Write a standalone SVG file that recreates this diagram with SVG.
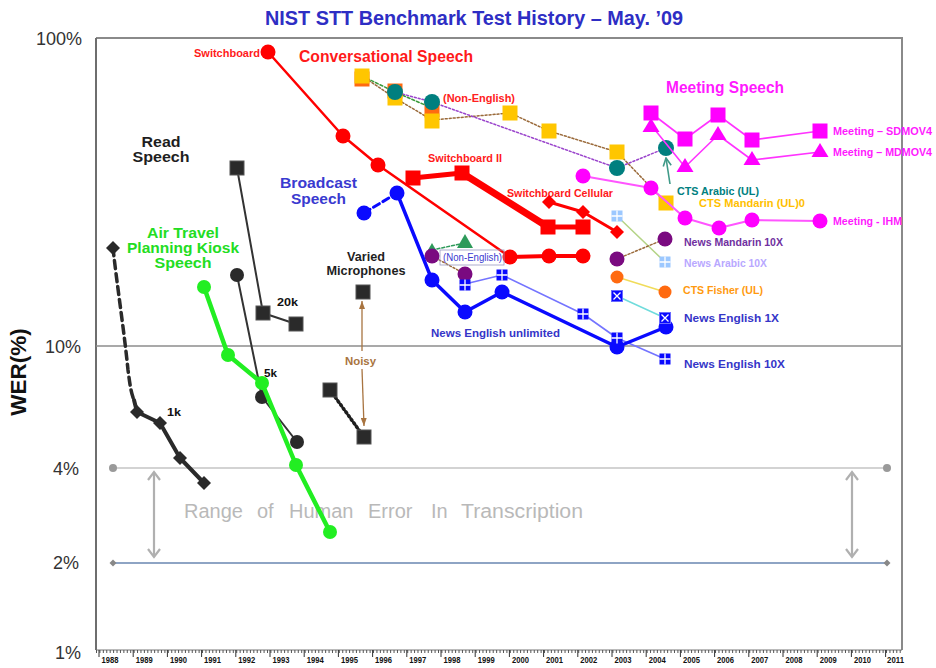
<svg xmlns="http://www.w3.org/2000/svg" width="936" height="668" viewBox="0 0 936 668">
<defs>
<style>
text { font-family: "Liberation Sans", Arial, sans-serif; }
.b { font-weight: bold; }
.sm { font-size: 10px; font-weight: bold; }
.yr { font-size: 8.5px; font-weight: bold; fill: #111; text-anchor: middle; }
.ax { font-size: 18px; fill: #333; text-anchor: end; }
.ln { fill: none; stroke-linejoin: round; stroke-linecap: round; }
.hum { font-size: 20px; fill: #b9b9b9; }
</style>
<marker id="chev" viewBox="0 0 12 14" refX="10" refY="7" markerWidth="12" markerHeight="14" markerUnits="userSpaceOnUse" orient="auto-start-reverse">
  <path d="M2,1 L10,7 L2,13" fill="none" stroke="#b0b0b0" stroke-width="2.2"/>
</marker>
<marker id="brownHead" viewBox="0 0 8 6" refX="8" refY="3" markerWidth="8" markerHeight="6" markerUnits="userSpaceOnUse" orient="auto">
  <path d="M0,0 L8,3 L0,6 z" fill="#a87440"/>
</marker>
<marker id="tealHead" viewBox="0 0 10 10" refX="9" refY="5" markerWidth="10" markerHeight="10" markerUnits="userSpaceOnUse" orient="auto">
  <path d="M1,1 L9,5 L1,9" fill="none" stroke="#3f9a88" stroke-width="1.6"/>
</marker>
<g id="sqK"><rect x="-7" y="-7" width="14" height="14" fill="#2a2a2a" stroke="#555" stroke-width="1"/></g>
<g id="sqR"><rect x="-7.5" y="-7.5" width="15" height="15" fill="#ff0000"/></g>
<g id="sqY"><rect x="-7.5" y="-7.5" width="15" height="15" fill="#ffc600"/></g>
<g id="sqO"><rect x="-7.5" y="-7.5" width="15" height="15" fill="#ff6a10"/></g>
<g id="sqM"><rect x="-7.5" y="-7.5" width="15" height="15" fill="#ff00ff"/></g>
<g id="triM"><polygon points="0,-8 8.5,6 -8.5,6" fill="#ff00ff"/></g>
<g id="dmK"><polygon points="0,-7 7,0 0,7 -7,0" fill="#2a2a2a"/></g>
<g id="dmR"><polygon points="0,-7 7,0 0,7 -7,0" fill="#ff0000"/></g>
<g id="qB"><rect x="-5.5" y="-5.5" width="11" height="11" fill="#0a0aff"/><path d="M0,-5.5V5.5M-5.5,0H5.5" stroke="#fff" stroke-width="1.3"/></g>
<g id="qL"><rect x="-5.5" y="-5.5" width="11" height="11" fill="#9cc8ff"/><path d="M0,-5.5V5.5M-5.5,0H5.5" stroke="#fff" stroke-width="1.3"/></g>
<g id="xB"><rect x="-5.5" y="-5.5" width="11" height="11" fill="#0a0aff" stroke="#6a6aff" stroke-width="1"/><path d="M-3.5,-3.5L3.5,3.5M3.5,-3.5L-3.5,3.5" stroke="#fff" stroke-width="1.3"/></g>
</defs>

<rect width="936" height="668" fill="#ffffff"/>

<!-- title -->
<text x="474" y="25" class="b" font-size="20" fill="#2e2ec4" text-anchor="middle" textLength="418" lengthAdjust="spacingAndGlyphs">NIST STT Benchmark Test History – May. ’09</text>

<!-- axes and frame -->
<g id="frame">
  <path d="M96,38 H902 V650" fill="none" stroke="#8a8a8a" stroke-width="2"/>
  <path d="M96,38 V650" stroke="#6e6e6e" stroke-width="2"/>
  <path d="M96,650 H902" stroke="#777" stroke-width="1"/>
  <path d="M96,651.5 H902" stroke="#555" stroke-width="3" stroke-dasharray="1 2.42"/>
  <path d="M99,650 V657 M133.2,650 V657 M167.4,650 V657 M201.6,650 V657 M235.8,650 V657 M270,650 V657 M304.2,650 V657 M338.4,650 V657 M372.6,650 V657 M406.8,650 V657 M441,650 V657 M475.2,650 V657 M509.4,650 V657 M543.6,650 V657 M577.8,650 V657 M612,650 V657 M646.2,650 V657 M680.4,650 V657 M714.6,650 V657 M748.8,650 V657 M783,650 V657 M817.2,650 V657 M851.4,650 V657 M885.6,650 V657" stroke="#333" stroke-width="1"/>
  <path d="M96,346 H902" stroke="#8c8c8c" stroke-width="1.6"/>
</g>

<g id="year-labels">
  <text class="yr" x="110" y="663" textLength="17" lengthAdjust="spacingAndGlyphs">1988</text>
  <text class="yr" x="144.2" y="663" textLength="17" lengthAdjust="spacingAndGlyphs">1989</text>
  <text class="yr" x="178.4" y="663" textLength="17" lengthAdjust="spacingAndGlyphs">1990</text>
  <text class="yr" x="212.6" y="663" textLength="17" lengthAdjust="spacingAndGlyphs">1991</text>
  <text class="yr" x="246.8" y="663" textLength="17" lengthAdjust="spacingAndGlyphs">1992</text>
  <text class="yr" x="281" y="663" textLength="17" lengthAdjust="spacingAndGlyphs">1993</text>
  <text class="yr" x="315.2" y="663" textLength="17" lengthAdjust="spacingAndGlyphs">1994</text>
  <text class="yr" x="349.4" y="663" textLength="17" lengthAdjust="spacingAndGlyphs">1995</text>
  <text class="yr" x="383.6" y="663" textLength="17" lengthAdjust="spacingAndGlyphs">1996</text>
  <text class="yr" x="417.8" y="663" textLength="17" lengthAdjust="spacingAndGlyphs">1997</text>
  <text class="yr" x="452" y="663" textLength="17" lengthAdjust="spacingAndGlyphs">1998</text>
  <text class="yr" x="486.2" y="663" textLength="17" lengthAdjust="spacingAndGlyphs">1999</text>
  <text class="yr" x="520.4" y="663" textLength="17" lengthAdjust="spacingAndGlyphs">2000</text>
  <text class="yr" x="554.6" y="663" textLength="17" lengthAdjust="spacingAndGlyphs">2001</text>
  <text class="yr" x="588.8" y="663" textLength="17" lengthAdjust="spacingAndGlyphs">2002</text>
  <text class="yr" x="623" y="663" textLength="17" lengthAdjust="spacingAndGlyphs">2003</text>
  <text class="yr" x="657.2" y="663" textLength="17" lengthAdjust="spacingAndGlyphs">2004</text>
  <text class="yr" x="691.4" y="663" textLength="17" lengthAdjust="spacingAndGlyphs">2005</text>
  <text class="yr" x="725.6" y="663" textLength="17" lengthAdjust="spacingAndGlyphs">2006</text>
  <text class="yr" x="759.8" y="663" textLength="17" lengthAdjust="spacingAndGlyphs">2007</text>
  <text class="yr" x="794" y="663" textLength="17" lengthAdjust="spacingAndGlyphs">2008</text>
  <text class="yr" x="828.2" y="663" textLength="17" lengthAdjust="spacingAndGlyphs">2009</text>
  <text class="yr" x="862.4" y="663" textLength="17" lengthAdjust="spacingAndGlyphs">2010</text>
  <text class="yr" x="895.6" y="663" textLength="17" lengthAdjust="spacingAndGlyphs">2011</text>
</g>

<g id="y-labels">
  <text class="ax" x="82" y="45">100%</text>
  <text class="ax" x="81" y="353">10%</text>
  <text class="ax" x="79" y="475">4%</text>
  <text class="ax" x="79" y="569">2%</text>
  <text class="ax" x="81" y="659">1%</text>
  <text class="b" font-size="22.5" fill="#111" text-anchor="middle" transform="translate(26,372) rotate(-90)">WER(%)</text>
</g>

<!-- human transcription error band -->
<g id="human-range">
  <path d="M113,468 H887" stroke="#c4c4c4" stroke-width="1.5"/>
  <circle cx="113" cy="468" r="4" fill="#9a9a9a"/>
  <circle cx="887" cy="468" r="4" fill="#9a9a9a"/>
  <path d="M113,563 H887" stroke="#8ea4c4" stroke-width="2"/>
  <polygon points="113,559.5 116.5,563 113,566.5 109.5,563" fill="#888"/>
  <polygon points="887,559.5 890.5,563 887,566.5 883.5,563" fill="#888"/>
  <path d="M154,472 V557" stroke="#b0b0b0" stroke-width="2.2" marker-start="url(#chev)" marker-end="url(#chev)"/>
  <path d="M852,472 V557" stroke="#b0b0b0" stroke-width="2.2" marker-start="url(#chev)" marker-end="url(#chev)"/>
  <text class="hum" x="184" y="518">Range</text>
  <text class="hum" x="257" y="518">of</text>
  <text class="hum" x="289" y="518">Human</text>
  <text class="hum" x="368" y="518">Error</text>
  <text class="hum" x="431" y="518">In</text>
  <text class="hum" x="461" y="518" textLength="122" lengthAdjust="spacingAndGlyphs">Transcription</text>
</g>

<!-- read speech -->
<g id="read-speech">
  <text class="b" font-size="14" fill="#1e1e1e" x="161" y="146.5" text-anchor="middle" textLength="39" lengthAdjust="spacingAndGlyphs">Read</text>
  <text class="b" font-size="14" fill="#1e1e1e" x="161" y="162" text-anchor="middle" textLength="57" lengthAdjust="spacingAndGlyphs">Speech</text>
  <path class="ln" d="M113,248 C117,285 124,330 128,370 C130,385 131,393 134,400" stroke="#2a2a2a" stroke-width="3.5" stroke-dasharray="8 5" stroke-linecap="butt"/>
  <path class="ln" d="M134,400 L137,412 L160,423 L180,458 L204,483" stroke="#2a2a2a" stroke-width="4"/>
  <use href="#dmK" x="113" y="248"/>
  <use href="#dmK" x="137" y="412"/>
  <use href="#dmK" x="160" y="423"/>
  <use href="#dmK" x="180" y="458"/>
  <use href="#dmK" x="204" y="483"/>
  <text class="sm" fill="#111" x="167" y="416" textLength="14" lengthAdjust="spacingAndGlyphs">1k</text>

  <path class="ln" d="M237,168 L263,313 L296,324" stroke="#333" stroke-width="2"/>
  <use href="#sqK" x="237" y="168"/>
  <use href="#sqK" x="263" y="313"/>
  <use href="#sqK" x="296" y="324"/>
  <text class="sm" fill="#111" x="277" y="305.5" textLength="21" lengthAdjust="spacingAndGlyphs">20k</text>

  <path class="ln" d="M237,275 L262,397 L297,442" stroke="#333" stroke-width="2"/>
  <circle cx="237" cy="275" r="7" fill="#2a2a2a"/>
  <circle cx="262" cy="397" r="7" fill="#2a2a2a"/>
  <circle cx="297" cy="442" r="7" fill="#2a2a2a"/>
  <text class="sm" fill="#111" x="264" y="377" textLength="13" lengthAdjust="spacingAndGlyphs">5k</text>
</g>

<!-- varied microphones -->
<g id="varied-microphones">
  <text class="b" font-size="12" fill="#1e1e1e" x="366" y="261" text-anchor="middle" textLength="38" lengthAdjust="spacingAndGlyphs">Varied</text>
  <text class="b" font-size="12" fill="#1e1e1e" x="366" y="274.5" text-anchor="middle" textLength="79" lengthAdjust="spacingAndGlyphs">Microphones</text>
  <use href="#sqK" x="363" y="292"/>
  <path class="ln" d="M330,390 L364,437" stroke="#1e1e1e" stroke-width="3.5" stroke-dasharray="1.5 3"/>
  <use href="#sqK" x="330" y="390"/>
  <use href="#sqK" x="364" y="437"/>
  <path d="M362,351 V301" stroke="#a87440" stroke-width="1.3" marker-end="url(#brownHead)"/>
  <path d="M362,369 L364,426" stroke="#a87440" stroke-width="1.3" marker-end="url(#brownHead)"/>
  <text class="sm" fill="#a87440" x="345" y="364.5" textLength="31" lengthAdjust="spacingAndGlyphs">Noisy</text>
</g>

<!-- air travel planning kiosk -->
<g id="air-travel">
  <text class="b" font-size="14" fill="#22dd22" x="183" y="237.5" text-anchor="middle" textLength="72" lengthAdjust="spacingAndGlyphs">Air Travel</text>
  <text class="b" font-size="14" fill="#22dd22" x="183" y="253" text-anchor="middle" textLength="112" lengthAdjust="spacingAndGlyphs">Planning Kiosk</text>
  <text class="b" font-size="14" fill="#22dd22" x="183" y="268" text-anchor="middle" textLength="57" lengthAdjust="spacingAndGlyphs">Speech</text>
  <path class="ln" d="M204,287 L228,355 L262,383 L296,465 L330,532" stroke="#22ee22" stroke-width="4.5"/>
  <circle cx="204" cy="287" r="7" fill="#22ee22"/>
  <circle cx="228" cy="355" r="7" fill="#22ee22"/>
  <circle cx="262" cy="383" r="7" fill="#22ee22"/>
  <circle cx="296" cy="465" r="7" fill="#22ee22"/>
  <circle cx="330" cy="532" r="7" fill="#22ee22"/>
</g>

<!-- conversational non-English (CTS) -->
<g id="cts-non-english">
  <path class="ln" d="M362,76 L395,98 L432,120 L510,113 L549,131 L617,152 L666,203" stroke="#9a6a3a" stroke-width="1.5" stroke-dasharray="2 2"/>
  <path class="ln" d="M362,76 L395,92 L432,108" stroke="#3a9a3a" stroke-width="1.5" stroke-dasharray="3 2"/>
  <path class="ln" d="M395,92 L432,102 L617,168 L666,148" stroke="#9a44cc" stroke-width="1.5" stroke-dasharray="2 2"/>
  <use href="#sqO" x="362" y="79"/>
  <use href="#sqY" x="362" y="76"/>
  <use href="#sqO" x="395" y="91"/>
  <use href="#sqY" x="395" y="98"/>
  <use href="#sqO" x="432" y="110"/>
  <use href="#sqY" x="432" y="121"/>
  <use href="#sqY" x="510" y="113"/>
  <use href="#sqY" x="549" y="131"/>
  <use href="#sqY" x="617" y="152"/>
  <use href="#sqY" x="666" y="203"/>
  <circle cx="395" cy="92" r="8" fill="#007f7f"/>
  <circle cx="432" cy="102" r="8" fill="#007f7f"/>
  <circle cx="617" cy="168" r="8" fill="#007f7f"/>
  <circle cx="666" cy="148" r="8" fill="#007f7f"/>
  <text class="sm" fill="#ff2020" x="443" y="101.5" textLength="72" lengthAdjust="spacingAndGlyphs">(Non-English)</text>
  <path d="M670,184 L666,158" stroke="#3f9a88" stroke-width="1.6" marker-end="url(#tealHead)"/>
  <text class="sm" fill="#008080" x="677" y="194.5" textLength="82" lengthAdjust="spacingAndGlyphs">CTS Arabic (UL)</text>
  <text class="sm" fill="#ffc000" x="699" y="206.5" textLength="106" lengthAdjust="spacingAndGlyphs">CTS Mandarin  (UL)0</text>
</g>

<!-- meeting speech -->
<g id="meeting-speech">
  <text class="b" font-size="16" fill="#ff1aff" x="666" y="92.5" textLength="118" lengthAdjust="spacingAndGlyphs">Meeting Speech</text>
  <path class="ln" d="M651,113 L685,139 L718,115 L752,140 L820,131" stroke="#ff33ff" stroke-width="1.6"/>
  <path class="ln" d="M651,125 L685,167 L718,135 L752,160 L820,152" stroke="#ff33ff" stroke-width="1.6"/>
  <path class="ln" d="M583,176 L651,188 L685,218 L719,228 L752,220 L820,221" stroke="#ff55ff" stroke-width="2"/>
  <use href="#sqM" x="651" y="113"/>
  <use href="#sqM" x="685" y="139"/>
  <use href="#sqM" x="718" y="115"/>
  <use href="#sqM" x="752" y="140"/>
  <use href="#sqM" x="820" y="131"/>
  <use href="#triM" x="651" y="126"/>
  <use href="#triM" x="685" y="166"/>
  <use href="#triM" x="718" y="134"/>
  <use href="#triM" x="752" y="159"/>
  <use href="#triM" x="820" y="151"/>
  <circle cx="583" cy="176" r="7.5" fill="#ff00ff"/>
  <circle cx="651" cy="188" r="7.5" fill="#ff00ff"/>
  <circle cx="685" cy="218" r="7.5" fill="#ff00ff"/>
  <circle cx="719" cy="228" r="7.5" fill="#ff00ff"/>
  <circle cx="752" cy="220" r="7.5" fill="#ff00ff"/>
  <circle cx="820" cy="221" r="7.5" fill="#ff00ff"/>
  <text class="sm" fill="#ff1aff" x="833" y="134.5" textLength="99" lengthAdjust="spacingAndGlyphs">Meeting – SDMOV4</text>
  <text class="sm" fill="#ff1aff" x="833" y="155.5" textLength="99" lengthAdjust="spacingAndGlyphs">Meeting – MDMOV4</text>
  <text class="sm" fill="#ff1aff" x="833" y="224.5" textLength="69" lengthAdjust="spacingAndGlyphs">Meeting - IHM</text>
</g>

<!-- conversational speech -->
<g id="conversational-speech">
  <text class="b" font-size="17" fill="#ff1a1a" x="299" y="62" textLength="174" lengthAdjust="spacingAndGlyphs">Conversational Speech</text>
  <text class="sm" fill="#ff1a1a" x="194" y="56.5" textLength="66" lengthAdjust="spacingAndGlyphs">Switchboard</text>
  <path class="ln" d="M268,52 L343,136 L378,165 L510,257" stroke="#ff0000" stroke-width="2.5"/>
  <path class="ln" d="M510,257 L549,256 L583,256" stroke="#ff0000" stroke-width="4"/>
  <circle cx="268" cy="52" r="7.5" fill="#ff0000"/>
  <circle cx="343" cy="136" r="7.5" fill="#ff0000"/>
  <circle cx="378" cy="165" r="7.5" fill="#ff0000"/>
  <circle cx="510" cy="257" r="7.5" fill="#ff0000"/>
  <circle cx="549" cy="256" r="7.5" fill="#ff0000"/>
  <circle cx="583" cy="256" r="7.5" fill="#ff0000"/>

  <text class="sm" fill="#ff1a1a" x="428" y="161.5" textLength="74" lengthAdjust="spacingAndGlyphs">Switchboard II</text>
  <path class="ln" d="M413,178 L462,173" stroke="#ff0000" stroke-width="5"/>
  <path class="ln" d="M462,173 L548,227" stroke="#ff0000" stroke-width="7"/>
  <path class="ln" d="M548,227 L583,227" stroke="#ff0000" stroke-width="5"/>
  <use href="#sqR" x="413" y="178"/>
  <use href="#sqR" x="462" y="173"/>
  <use href="#sqR" x="548" y="227"/>
  <use href="#sqR" x="583" y="227"/>

  <text class="sm" fill="#ff1a1a" x="507" y="196.5" textLength="106" lengthAdjust="spacingAndGlyphs">Switchboard Cellular</text>
  <path class="ln" d="M549,202 L583,212 L617,232" stroke="#ff0000" stroke-width="3"/>
  <use href="#dmR" x="549" y="202"/>
  <use href="#dmR" x="583" y="212"/>
  <use href="#dmR" x="617" y="232"/>
</g>

<!-- broadcast news side series -->
<g id="broadcast-side">
  <path class="ln" d="M617,216 L665,262" stroke="#b4d486" stroke-width="1.5"/>
  <use href="#qL" x="617" y="216"/>
  <use href="#qL" x="665" y="262"/>
  <text class="sm" fill="#b8a8ff" x="684" y="266.5" textLength="83" lengthAdjust="spacingAndGlyphs">News Arabic 10X</text>

  <path class="ln" d="M617,259 L665,239" stroke="#9a6a3a" stroke-width="1.5" stroke-dasharray="2 2"/>
  <circle cx="617" cy="259" r="7.5" fill="#7a0a80"/>
  <circle cx="665" cy="239" r="7.5" fill="#7a0a80"/>
  <text class="sm" fill="#7030a0" x="684" y="245.5" textLength="99" lengthAdjust="spacingAndGlyphs">News Mandarin 10X</text>

  <path class="ln" d="M617,277 L665,292" stroke="#f0dc5a" stroke-width="1.5"/>
  <circle cx="617" cy="277" r="6.5" fill="#ff6a10"/>
  <circle cx="665" cy="292" r="6.5" fill="#ff6a10"/>
  <text class="sm" fill="#ff9a10" x="683" y="293.5" textLength="80" lengthAdjust="spacingAndGlyphs">CTS Fisher (UL)</text>

  <path class="ln" d="M432,256 L465,274" stroke="#9a6a3a" stroke-width="1.5" stroke-dasharray="2 2"/>
  <path class="ln" d="M432,250 L465,243" stroke="#2e9a5a" stroke-width="1.5" stroke-dasharray="3 2"/>
  <polygon points="432,243 436,250 428,250" fill="#2e9a5a"/>
  <polygon points="465,234 473,248 457,248" fill="#2e9a5a"/>
  <circle cx="432" cy="256" r="7.5" fill="#7a0a80"/>
  <circle cx="465" cy="274" r="7.5" fill="#7a0a80"/>
  <rect x="440" y="250" width="64" height="15" fill="none" stroke="#9a9ac0" stroke-width="0.8"/>
  <text font-size="10" fill="#3a3ad0" x="443" y="261" textLength="59" lengthAdjust="spacingAndGlyphs">(Non-English)</text>
</g>

<!-- broadcast speech -->
<g id="broadcast-speech">
  <text class="b" font-size="15" fill="#3a3ad0" x="318.5" y="188" text-anchor="middle" textLength="77" lengthAdjust="spacingAndGlyphs">Broadcast</text>
  <text class="b" font-size="15" fill="#3a3ad0" x="318.5" y="204" text-anchor="middle" textLength="55" lengthAdjust="spacingAndGlyphs">Speech</text>

  <path class="ln" d="M465,284 L502,275 L583,314 L617,338 L665,359" stroke="#7474ff" stroke-width="1.6"/>
  <path class="ln" d="M617,296 L665,318" stroke="#70dcdc" stroke-width="1.5"/>

  <path class="ln" d="M364,213 L397,193" stroke="#0a0aff" stroke-width="3" stroke-dasharray="7 4" stroke-linecap="butt"/>
  <path class="ln" d="M397,193 L432,280 L465,312 L502,292 L617,347 L666,327" stroke="#0a0aff" stroke-width="3.5"/>
  <circle cx="364" cy="213" r="7.5" fill="#0a0aff"/>
  <circle cx="397" cy="193" r="7.5" fill="#0a0aff"/>
  <circle cx="432" cy="280" r="7.5" fill="#0a0aff"/>
  <circle cx="465" cy="312" r="7.5" fill="#0a0aff"/>
  <circle cx="502" cy="292" r="7.5" fill="#0a0aff"/>
  <circle cx="617" cy="347" r="7.5" fill="#0a0aff"/>
  <circle cx="666" cy="327" r="7.5" fill="#0a0aff"/>

  <use href="#qB" x="465" y="285"/>
  <use href="#qB" x="502" y="275"/>
  <use href="#qB" x="583" y="314"/>
  <use href="#qB" x="617" y="338"/>
  <use href="#qB" x="665" y="359"/>
  <use href="#xB" x="617" y="296"/>
  <use href="#xB" x="665" y="318"/>

  <text class="sm" font-size="11" fill="#3535c8" x="431" y="337" textLength="129" lengthAdjust="spacingAndGlyphs">News English unlimited</text>
  <text class="sm" font-size="11" fill="#3535c8" x="684" y="321.5" textLength="95" lengthAdjust="spacingAndGlyphs">News English  1X</text>
  <text class="sm" font-size="11" fill="#3535c8" x="684" y="367.5" textLength="101" lengthAdjust="spacingAndGlyphs">News English  10X</text>
</g>
</svg>
